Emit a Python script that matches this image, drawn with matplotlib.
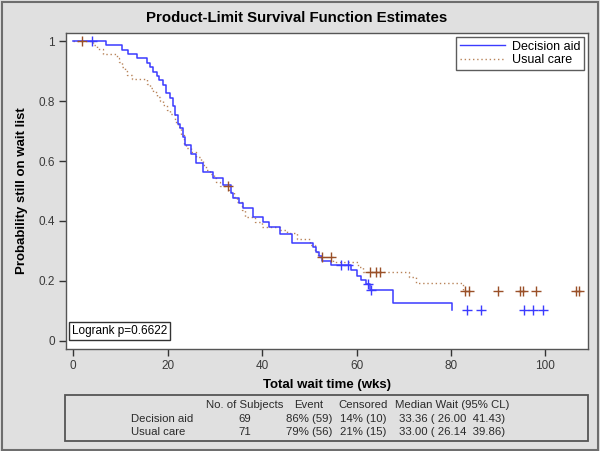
import numpy as np
import matplotlib
matplotlib.use("Agg")
import matplotlib.pyplot as plt
from matplotlib.patches import Rectangle
from matplotlib.lines import Line2D

plt.rcParams['font.family'] = ['Liberation Sans', 'DejaVu Sans']

# ---- data ----
groups = ["Decision aid", "Usual care"]

da_times = [7.0, 10.4, 11.7, 13.5, 15.6, 16.3, 17.0, 17.7, 18.2, 19.0, 19.7, 20.6, 21.1,
            21.6, 22.3, 22.6, 23.3, 23.7, 24.9, 26.1, 27.5, 29.7, 31.8, 33.5, 33.9, 35.2,
            36.0, 38.0, 40.2, 41.5, 43.9, 46.4, 50.8, 51.4, 52.1, 52.6, 54.7, 58.9, 60.0,
            61.0, 61.9, 62.8, 67.7, 80.3]
da_surv = [0.986, 0.971, 0.957, 0.942, 0.927, 0.913, 0.898, 0.884, 0.869, 0.855, 0.826,
           0.811, 0.782, 0.753, 0.725, 0.710, 0.681, 0.652, 0.623, 0.594, 0.565, 0.545,
           0.520, 0.492, 0.478, 0.459, 0.442, 0.414, 0.398, 0.381, 0.357, 0.326, 0.314,
           0.298, 0.283, 0.268, 0.253, 0.237, 0.218, 0.203, 0.189, 0.170, 0.126, 0.103]
da_censored = [4.0, 56.8, 58.2, 62.4, 63.1, 83.4, 86.4, 95.4, 97.3, 99.4]

uc_times = [4.3, 5.0, 6.4, 9.2, 9.8, 10.3, 11.0, 11.4, 12.5, 15.7, 16.3, 17.0, 17.7, 18.4,
            19.1, 19.8, 20.5, 21.6, 22.3, 22.9, 23.5, 24.0, 24.9, 26.1, 27.0, 27.5, 28.2,
            28.9, 29.8, 30.2, 31.0, 33.0, 34.0, 34.6, 35.7, 36.4, 38.5, 39.9, 43.8, 45.2,
            47.3, 50.1, 51.2, 51.9, 55.0, 60.3, 61.4, 71.2, 72.6, 82.5]
uc_surv = [0.986, 0.972, 0.957, 0.943, 0.929, 0.914, 0.900, 0.886, 0.872, 0.857, 0.843,
           0.829, 0.814, 0.800, 0.786, 0.771, 0.757, 0.729, 0.714, 0.686, 0.657, 0.643,
           0.629, 0.614, 0.600, 0.586, 0.571, 0.557, 0.543, 0.529, 0.517, 0.498, 0.481,
           0.464, 0.437, 0.414, 0.398, 0.381, 0.370, 0.359, 0.339, 0.320, 0.298, 0.279,
           0.264, 0.248, 0.231, 0.212, 0.192, 0.167]
uc_censored = [1.8, 32.8, 52.6, 54.5, 62.8, 64.2, 64.9, 82.9, 83.9, 90.0, 94.5, 95.2,
               98.0, 106.5, 107.2]

xticks = [0, 20, 40, 60, 80, 100]
yticks = [0, 0.2, 0.4, 0.6, 0.8, 1]
ytick_labels = ["0", "0.2", "0.4", "0.6", "0.8", "1"]

table_header = ["No. of Subjects", "Event", "Censored", "Median Wait (95% CL)"]
table_rows = [
    ["69", "86% (59)", "14% (10)", "33.36 ( 26.00  41.43)"],
    ["71", "79% (56)", "21% (15)", "33.00 ( 26.14  39.86)"],
]
logrank_text = "Logrank p=0.6622"

# ---- styling ----
BG = "#e0e0e0"
BLUE = "#3b3bff"
BROWN_LINE = "#b8845a"
BROWN = "#9a5028"
TXT = "#2a2a2a"
W, H = 600, 451

fig = plt.figure(figsize=(6.0, 4.51), dpi=100, facecolor=BG)

def fx(px):
    return px / W

def fy(py):
    return 1 - py / H

# outer border
fig.patches.append(Rectangle((fx(1.5), fy(449.5)), fx(596), 447.5 / H, transform=fig.transFigure,
                             fill=False, edgecolor="#6e6e6e", linewidth=1.5))

L, R, T, B = 66, 588, 33, 349
ax = fig.add_axes([fx(L), fy(B), fx(R - L), (B - T) / H])
ax.set_facecolor("white")
ax.set_xlim(-1.5, 109.0)
ax.set_ylim(-0.027, 1.027)

def step_xy(times, surv):
    x = np.concatenate([[0.0], np.asarray(times, float)])
    y = np.concatenate([[1.0], np.asarray(surv, float)])
    return x, y

def level_at(times, surv, t):
    x, y = step_xy(times, surv)
    idx = np.searchsorted(x, np.asarray(t, float), side="right") - 1
    return y[idx]

x1, y1 = step_xy(da_times, da_surv)
x2, y2 = step_xy(uc_times, uc_surv)

ax.plot(x2, y2, drawstyle="steps-post", color=BROWN_LINE, lw=1.0, ls=(0, (1, 2)), zorder=3)
ax.plot(x1, y1, drawstyle="steps-post", color=BLUE, lw=1.1, zorder=4)

ax.plot(uc_censored, level_at(uc_times, uc_surv, uc_censored), ls="none", marker="+",
        color=BROWN, ms=7, mew=1.0, zorder=5)
ax.plot(da_censored, level_at(da_times, da_surv, da_censored), ls="none", marker="+",
        color=BLUE, ms=7, mew=1.0, zorder=5)

ax.set_xticks(xticks)
ax.set_xticklabels([str(v) for v in xticks])
ax.set_yticks(yticks)
ax.set_yticklabels(ytick_labels)
ax.tick_params(direction="out", length=5, width=1, color="#333333", labelsize=8.5,
               labelcolor="#3a3a3a", pad=3)
for s in ax.spines.values():
    s.set_color("#555555")
    s.set_linewidth(1.0)

fig.text(fx(297), fy(18), "Product-Limit Survival Function Estimates", ha="center",
         va="center", fontsize=10.8, fontweight="bold")
fig.text(fx(327), fy(385), "Total wait time (wks)", ha="center", va="center",
         fontsize=9.5, fontweight="bold")
fig.text(fx(22), fy(191), "Probability still on wait list", ha="center", va="center",
         rotation=90, fontsize=9.5, fontweight="bold")

handles = [Line2D([], [], color=BLUE, lw=1.0),
           Line2D([], [], color=BROWN_LINE, lw=1.0, ls=(0, (1, 2)))]
leg = ax.legend(handles, groups, loc="upper right", fontsize=9, frameon=True, fancybox=False,
                borderaxespad=0.3, handlelength=3.6, handletextpad=0.6, borderpad=0.3,
                labelspacing=0.15)
leg.get_frame().set_edgecolor("#333333")
leg.get_frame().set_linewidth(1.0)

ax.text(0.012, 0.038, logrank_text, transform=ax.transAxes, ha="left", va="bottom",
        fontsize=8.5, bbox=dict(boxstyle="square,pad=0.25", fc="white", ec="#333333", lw=1.0))

# table inset
fig.patches.append(Rectangle((fx(65), fy(441)), fx(588 - 65), (441 - 395) / H,
                             transform=fig.transFigure, fill=False, edgecolor="#555555",
                             linewidth=1.3))
col_x = [245, 309, 363, 452]
row_y = [405, 419, 432]
FS = 8.2
for cx, txt in zip(col_x, table_header):
    fig.text(fx(cx), fy(row_y[0]), txt, ha="center", va="center", fontsize=FS, color=TXT)
for ri, (g, row) in enumerate(zip(groups, table_rows)):
    yy = fy(row_y[ri + 1])
    fig.text(fx(131), yy, g, ha="left", va="center", fontsize=FS, color=TXT)
    for cx, txt in zip(col_x, row):
        fig.text(fx(cx), yy, txt, ha="center", va="center", fontsize=FS, color=TXT)

fig.savefig("out.png", dpi=100, facecolor=BG)
